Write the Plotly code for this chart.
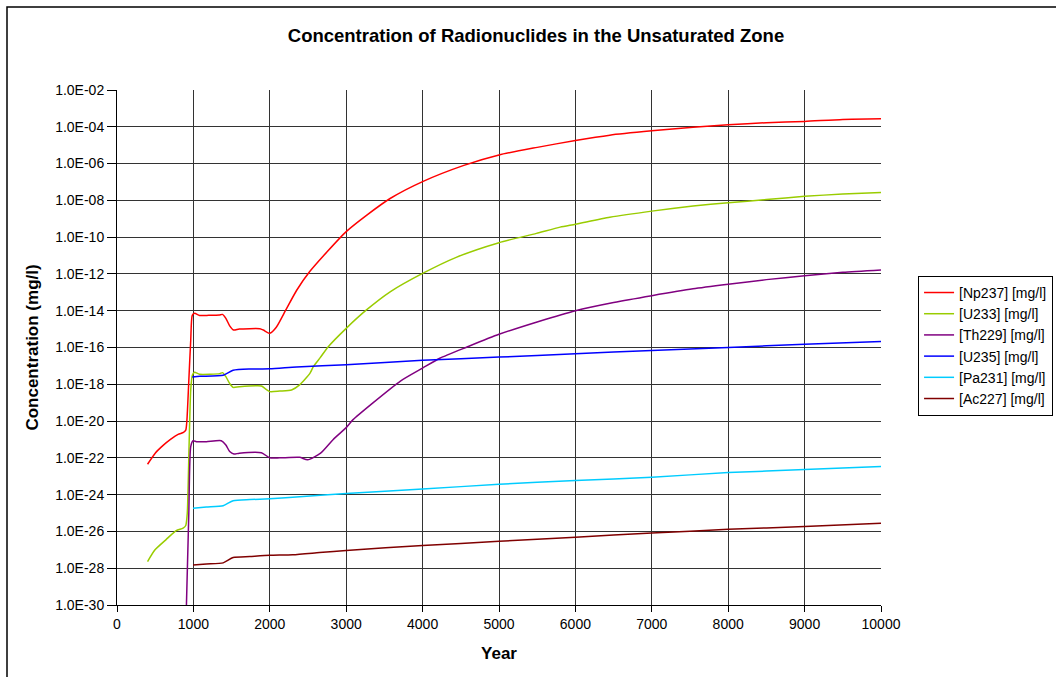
import plotly.graph_objects as go

# Simulated concentrations in the unsaturated zone (mg/l) versus time (years)
np237_years = [400, 500, 600, 700, 800, 870, 900, 915, 940, 965, 985, 1015, 1080, 1200,
               1340, 1380, 1425, 1475, 1525, 1600, 1870, 1915, 2000, 2085, 2210, 2350,
               2520, 2750, 3000, 3270, 3580, 4000, 4540, 5000, 5500, 6000, 6450, 7000,
               7540, 8000, 8500, 9000, 9500, 10000]
np237_conc = [4.5e-23, 1.8e-22, 4.6e-22, 1.0e-21, 1.9e-21, 2.4e-21, 3.2e-21, 1.1e-20,
              1.6e-18, 2.5e-16, 5.6e-15, 7.2e-15, 5.5e-15, 5.6e-15, 5.9e-15, 6.3e-15,
              3.8e-15, 1.5e-15, 8.9e-16, 1.0e-15, 1.05e-15, 8.9e-16, 5.9e-16, 1.26e-15,
              1.1e-14, 1.26e-13, 1.3e-12, 1.6e-11, 2.0e-10, 1.58e-9, 1.3e-8, 1.05e-7,
              8.0e-7, 2.95e-6, 7.6e-6, 1.8e-5, 3.5e-5, 6.0e-5, 9.5e-5, 1.3e-4, 1.66e-4,
              1.95e-4, 2.5e-4, 2.7e-4]

u233_years = [400, 495, 645, 775, 865, 900, 920, 943, 965, 987, 1015, 1080, 1345, 1380,
              1425, 1475, 1520, 1600, 1890, 1935, 2000, 2130, 2285, 2390, 2525, 2570,
              2660, 2765, 3000, 3265, 3580, 4000, 4440, 5000, 5490, 5800, 6000, 6450,
              7000, 7540, 8000, 8500, 9000, 9500, 10000]
u233_conc = [2.3e-28, 9.8e-28, 3.7e-27, 1.1e-26, 1.5e-26, 2.1e-26, 1.0e-25, 4.0e-22,
             5.0e-19, 3.2e-18, 4.5e-18, 3.5e-18, 3.8e-18, 4.3e-18, 2.6e-18, 1.1e-18,
             6.8e-19, 7.4e-19, 8.1e-19, 6.0e-19, 4.0e-19, 4.3e-19, 4.9e-19, 9.3e-19,
             3.9e-18, 9.1e-18, 2.8e-17, 1.1e-16, 1.1e-15, 1.1e-14, 1.1e-13, 1.07e-12,
             8.0e-12, 5.0e-11, 1.6e-10, 3.5e-10, 5.0e-10, 1.2e-9, 2.6e-9, 4.9e-9,
             7.4e-9, 1.1e-8, 1.66e-8, 2.2e-8, 2.7e-8]

th229_years = [890, 940, 965, 996, 1040, 1170, 1365, 1425, 1475, 1530, 1600, 1890, 2000,
               2130, 2390, 2495, 2665, 2830, 3000, 3090, 3350, 3710, 4000, 4225, 4590,
               5000, 5520, 6000, 6500, 7000, 7540, 8000, 8500, 9000, 9500, 10000]
th229_conc = [1.0e-33, 1.0e-25, 4.1e-22, 8.5e-22, 7.6e-22, 7.6e-22, 8.5e-22, 5.0e-22,
              2.2e-22, 1.6e-22, 1.8e-22, 1.9e-22, 1.0e-22, 1.0e-22, 1.07e-22, 7.9e-23,
              1.8e-22, 1.0e-21, 4.4e-21, 1.2e-20, 9.8e-20, 1.5e-18, 7.6e-18, 2.6e-17,
              1.1e-16, 5.2e-16, 2.6e-15, 1.0e-14, 2.8e-14, 6.6e-14, 1.55e-13, 2.75e-13,
              4.9e-13, 7.9e-13, 1.23e-12, 1.66e-12]

u235_years = [985, 1085, 1390, 1520, 1740, 2000, 2350, 3000, 4000, 5000, 6000, 7000,
              8000, 9000, 10000]
u235_conc = [2.5e-18, 2.7e-18, 3.1e-18, 5.8e-18, 6.8e-18, 6.9e-18, 8.7e-18, 1.15e-17,
             2.0e-17, 3.0e-17, 4.6e-17, 6.9e-17, 1.0e-16, 1.5e-16, 2.1e-16]

pa231_years = [995, 1170, 1390, 1520, 1740, 2000, 2300, 3000, 4000, 5000, 6000, 7000,
               8000, 9000, 10000]
pa231_conc = [1.8e-25, 2.1e-25, 2.5e-25, 4.7e-25, 5.4e-25, 6.0e-25, 7.2e-25, 1.17e-24,
              2.0e-24, 3.7e-24, 5.8e-24, 8.9e-24, 1.58e-23, 2.3e-23, 3.4e-23]

ac227_years = [995, 1170, 1390, 1520, 1740, 2000, 2300, 2650, 3000, 4000, 5000, 6000,
               7000, 8000, 9000, 10000]
ac227_conc = [1.5e-28, 1.7e-28, 1.95e-28, 3.8e-28, 4.3e-28, 5.0e-28, 5.4e-28, 7.1e-28,
              9.3e-28, 1.7e-27, 2.9e-27, 4.9e-27, 8.1e-27, 1.3e-26, 1.86e-26, 2.8e-26]

y_tick_values = [1e-2, 1e-4, 1e-6, 1e-8, 1e-10, 1e-12, 1e-14, 1e-16, 1e-18, 1e-20,
                 1e-22, 1e-24, 1e-26, 1e-28, 1e-30]
y_tick_labels = ["1.0E-02", "1.0E-04", "1.0E-06", "1.0E-08", "1.0E-10", "1.0E-12",
                 "1.0E-14", "1.0E-16", "1.0E-18", "1.0E-20", "1.0E-22", "1.0E-24",
                 "1.0E-26", "1.0E-28", "1.0E-30"]

series = [
    ("[Np237] [mg/l]", np237_years, np237_conc, "#FF0000"),
    ("[U233] [mg/l]", u233_years, u233_conc, "#99CC00"),
    ("[Th229] [mg/l]", th229_years, th229_conc, "#800080"),
    ("[U235] [mg/l]", u235_years, u235_conc, "#0000FF"),
    ("[Pa231] [mg/l]", pa231_years, pa231_conc, "#00CCFF"),
    ("[Ac227] [mg/l]", ac227_years, ac227_conc, "#800000"),
]

FONT = "Liberation Sans, Arial, sans-serif"

fig = go.Figure()
for name, xs, ys, color in series:
    fig.add_trace(go.Scatter(
        x=xs, y=ys, name=name, mode="lines",
        line=dict(color=color, width=1.5, shape="spline", smoothing=0.6),
    ))

fig.update_layout(
    width=1056, height=677,
    margin=dict(l=117, r=175, t=90, b=72, autoexpand=False),
    paper_bgcolor="white", plot_bgcolor="white",
    font=dict(family=FONT, size=14, color="black"),
    title=dict(
        text="<b>Concentration of Radionuclides in the Unsaturated Zone</b>",
        x=536 / 1056, xanchor="center", y=1 - 36 / 677, yanchor="middle",
        font=dict(family=FONT, size=18.5, color="black"),
    ),
    showlegend=True,
    legend=dict(
        x=1.0485, xanchor="left", y=0.639, yanchor="top",
        bordercolor="black", borderwidth=1, bgcolor="white",
        font=dict(family=FONT, size=14, color="black"),
        itemwidth=30, tracegroupgap=0,
    ),
    xaxis=dict(
        range=[0, 10000], tick0=0, dtick=1000, tickformat="d",
        showgrid=True, gridcolor="#333333", gridwidth=1,
        showline=True, linecolor="black", linewidth=1,
        ticks="outside", ticklen=6, tickcolor="black",
        tickfont=dict(family=FONT, size=14),
        zeroline=False,
        title=dict(text="<b>Year</b>", font=dict(family=FONT, size=17), standoff=16),
    ),
    yaxis=dict(
        type="log", range=[-30, -2],
        tickvals=y_tick_values, ticktext=y_tick_labels,
        showgrid=True, gridcolor="#333333", gridwidth=1,
        showline=True, linecolor="black", linewidth=1,
        ticks="outside", ticklen=9, tickcolor="black",
        tickfont=dict(family=FONT, size=14),
        zeroline=False,
        title=dict(text="<b>Concentration (mg/l)</b>", font=dict(family=FONT, size=17), standoff=12),
    ),
    shapes=[
        dict(type="rect", xref="paper", yref="paper",
             x0=(7 - 117) / 764, x1=(1070 - 117) / 764,
             y0=-0.2, y1=1 + (90 - 7) / 515,
             line=dict(color="black", width=1.5), fillcolor="rgba(0,0,0,0)", layer="below"),
    ],
)

fig.write_html("out.html")
